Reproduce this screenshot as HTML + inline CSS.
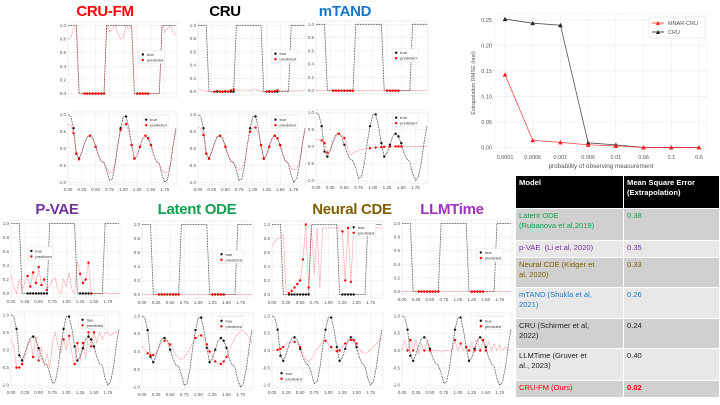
<!DOCTYPE html>
<html><head><meta charset="utf-8">
<style>
body{margin:0;width:720px;height:405px;overflow:hidden;background:#fff;font-family:"Liberation Sans",sans-serif;}
.t{position:absolute;font-size:15px;font-weight:bold;white-space:nowrap;transform:translateX(-50%);letter-spacing:-0.3px;}
table{position:absolute;left:515px;top:175px;width:205px;border-collapse:collapse;font-size:7.6px;table-layout:fixed;}
td{padding:2px 3px;vertical-align:top;line-height:10px;border:1px solid #fff;overflow:hidden;}
</style></head><body>
<svg id="s" width="720" height="405" style="position:absolute;left:0;top:0"></svg>
<div class="t" style="left:105px;top:3px;color:#f00">CRU-FM</div>
<div class="t" style="left:225px;top:3px;color:#000">CRU</div>
<div class="t" style="left:345px;top:3px;color:#1a78c8">mTAND</div>
<div class="t" style="left:57px;top:201px;color:#7030a0">P-VAE</div>
<div class="t" style="left:197px;top:201px;color:#10a050">Latent ODE</div>
<div class="t" style="left:352px;top:201px;color:#7f6000">Neural CDE</div>
<div class="t" style="left:452px;top:201px;color:#a030c0">LLMTime</div>
<table>
<colgroup><col style="width:108px"><col></colgroup>
<tr style="background:#000;color:#fff;font-weight:bold;height:33px"><td>Model</td><td>Mean Square Error (Extrapolation)</td></tr>
<tr style="background:#d0d0d0;color:#10a050;height:32px"><td>Latent ODE<br>(Rubanova et al,2019)</td><td>0.38</td></tr>
<tr style="background:#e8e8e8;color:#7030a0;height:17px"><td>p-VAE &nbsp;(Li et al, 2020)</td><td>0.35</td></tr>
<tr style="background:#d0d0d0;color:#7f6000;height:30px"><td>Neural CDE (Kidger et<br>al, 2020)</td><td>0.33</td></tr>
<tr style="background:#e8e8e8;color:#1a78c8;height:31px"><td>mTAND (Shukla et al,<br>2021)</td><td>0.26</td></tr>
<tr style="background:#d0d0d0;color:#222;height:30px"><td>CRU (Schirmer et al,<br>2022)</td><td>0.24</td></tr>
<tr style="background:#e8e8e8;color:#222;height:32px"><td>LLMTime (Gruver et<br>al., 2023)</td><td>0.40</td></tr>
<tr style="background:#d0d0d0;color:#f00;height:17px"><td>CRU-FM (Ours)</td><td style="font-weight:bold">0.02</td></tr>
</table>
<script>
// ---- RMSE chart data ----
const cats=['0.0001','0.0006','0.001','0.006','0.01','0.06','0.1','0.6'];
const mnarVals=[0.143,0.014,0.010,0.005,0.003,0,0,0];
const cruVals=[0.252,0.244,0.240,0.009,0.005,0,0,0];
const yTicks=[0,0.05,0.10,0.15,0.20,0.25];
const yTickLabels=['0.00','0.05','0.10','0.15','0.20','0.25'];
// ---- panel data (t = 0..1.95 step 0.05) ----
const sqTrue=[1,1,1,1,0,0,0,0,0,0,0,0,0,0,1,1,1,1,1,1,1,1,1,1,0,0,0,0,0,0,0,0,0,0,1,1,1,1,1,1];
const sinTrue=[1.0,0.95,0.6,-0.15,-0.3,-0.1,0.15,0.35,0.38,0.3,0.05,-0.2,-0.38,-0.42,-0.65,-0.95,-0.9,-0.5,0.1,0.6,0.95,0.95,0.6,0.1,-0.3,-0.2,0.05,0.3,0.38,0.3,0.1,-0.2,-0.38,-0.45,-0.8,-1.0,-0.9,-0.5,0.1,0.6];
const sqObs=[6,7,8,9,10,11,12,13,25,26,27,28,29];
const sinObs=[2,3,4,8,10,19,21,23,24,26,28,29,30];
const sqCruFm=[0.8,0.82,0.95,1,0,0,0,0,0,0,0,0,0,0,1,0.9,0.95,1,0.88,0.8,0.82,1,0.95,1,0,0,0,0,0,0,0,0,0,0,1,0.9,0.95,1,0.9,0.85];
const sinCruFm=[0.72,0.7,0.45,-0.15,-0.32,-0.1,0.15,0.35,0.38,0.3,0.05,-0.2,-0.38,-0.42,-0.6,-0.72,-0.7,-0.45,0.1,0.55,0.72,0.72,0.5,0.1,-0.3,-0.2,0.05,0.3,0.38,0.3,0.1,-0.2,-0.38,-0.45,-0.65,-0.72,-0.7,-0.45,0.1,0.5];
const sqCru=[0.03,0.03,0.02,0.01,0,0,0,0.01,0,0,0.01,0,0.02,0.03,0.03,0.02,0.03,0.02,0.03,0.02,0.03,0.03,0.02,0.01,0,0,0.01,0,0.01,0.02,0.02,0.01,0.02,0.02,0.01,0.01,0.02,0.01,0.02,0.03];
const sinCru=[0.62,0.6,0.4,-0.15,-0.3,-0.1,0.15,0.35,0.38,0.3,0.05,-0.2,-0.38,-0.42,-0.55,-0.62,-0.6,-0.4,0.1,0.5,0.62,0.62,0.45,0.1,-0.3,-0.2,0.05,0.3,0.38,0.3,0.1,-0.2,-0.38,-0.45,-0.58,-0.62,-0.6,-0.4,0.1,0.5];
const sqZero=[0,0,0,0,0,0,0,0,0,0,0,0,0,0,0,0,0,0,0,0,0,0,0,0,0,0,0,0,0,0,0,0,0,0,0,0,0,0,0,0];
const sinMtand=[0.22,0.2,0.18,0.1,-0.18,-0.15,0.1,0.3,0.38,0.35,0.25,0.0,-0.25,-0.2,-0.15,-0.12,-0.1,-0.08,-0.06,-0.05,-0.04,-0.03,-0.02,-0.02,-0.01,-0.01,0,0,0,0,0,0,0,0,0,0,0,0,0,0];
const sqPvae=[0.25,0.1,0,0.2,0.05,0.15,0.25,0.1,0.3,0.15,0.38,0.12,0.2,0.05,0.1,0.2,0.22,0.05,0,0.2,0.1,0.3,0.05,0,0.45,0.28,0.15,0.2,0.44,0,0,0,0,0,0.02,0,0,0,0,0];
const sinPvae=[0.3,0.1,-0.5,-0.5,-0.4,-0.2,0.1,0.3,-0.2,0.4,-0.3,0.1,-0.45,-0.1,-0.5,0.2,0.5,0.1,-0.1,0.3,0,0.4,-0.1,-0.4,0.2,-0.3,0.2,-0.25,0.5,0.1,0.5,0.2,0.5,0.3,0.5,0.5,0.4,0.5,0.5,0.45];
const sinLode=[0.15,0.05,-0.05,-0.1,-0.1,-0.02,0.1,0.22,0.3,0.3,0.2,0.05,-0.1,-0.2,-0.22,-0.18,-0.05,0.1,0.25,0.38,0.45,0.45,0.38,0.2,0.0,-0.15,-0.28,-0.35,-0.35,-0.28,-0.15,0.05,0.22,0.38,0.5,0.58,0.58,0.5,0.38,0.25];
const sqNcde=[0.68,0.75,0.8,0.82,0.85,0.05,0.02,0.05,0.1,0.15,0.2,0.5,1.0,0.1,0.95,0.3,0.95,0.1,0.95,0.95,0.95,0.95,0.95,0.95,0.95,0.9,0.2,0.95,0.18,0.95,0.95,0.95,0.95,0.95,0.95,0.95,0.95,0.95,0.95,0.95];
const sinNcde=[0,0,0.02,0.05,0.1,0.18,0.22,0.25,0.25,0.22,0.1,-0.1,-0.25,-0.32,-0.25,-0.1,0.05,0.15,0.25,0.28,0.2,0.1,0,-0.02,0.0,0.1,0.2,0.25,0.3,0.3,0.2,0.05,-0.05,-0.08,-0.05,0.02,0.1,0.2,0.3,0.35];
const sinLlm=[0,0.3,0,0.3,0,0.3,-0.1,0.2,0,0.25,0,0,0,0,-0.05,0,0,0,0,0.3,0,0.2,0,0.1,0,0.25,0,0.3,0,0.3,0,0.25,0,0.2,0,0.15,0,0.1,0,0.05];
const xTickVals=[0,0.25,0.5,0.75,1.0,1.25,1.5,1.75];
const xTickLabels=['0.00','0.25','0.50','0.75','1.00','1.25','1.50','1.75'];

const NS='http://www.w3.org/2000/svg';
const svg=document.getElementById('s');
function mk(tag,attrs,parent){const e=document.createElementNS(NS,tag);for(const k in attrs)e.setAttribute(k,attrs[k]);(parent||svg).appendChild(e);return e;}

function panel(name,x0,y0,w,h,kind,trueArr,predArr,obs,xlab,leg){
  const g=mk('g',{});
  
  
  const ymin=kind==='sq'?-0.05:-1.08, ymax=kind==='sq'?1.05:1.08;
  const ticks=kind==='sq'?[0,0.2,0.4,0.6,0.8,1.0]:[-1,-0.5,0,0.5,1];
  const X=t=>x0+t/1.97*w, Y=v=>y0+h-(v-ymin)/(ymax-ymin)*h;
  mk('rect',{x:x0,y:y0,width:w,height:h,fill:'#fff',stroke:'#e4e4e4','stroke-width':0.6},g);
  ticks.forEach(v=>{mk('line',{x1:x0,x2:x0+w,y1:Y(v),y2:Y(v),stroke:'#ececec','stroke-width':0.6},g);
    const tx=mk('text',{x:x0-2,y:Y(v)+1.5,'font-size':4.5,'text-anchor':'end',fill:'#555'},g);tx.textContent=v.toFixed(1);});
  xTickVals.forEach((v,i)=>{mk('line',{x1:X(v),x2:X(v),y1:y0,y2:y0+h,stroke:'#ececec','stroke-width':0.6},g);
    if(xlab){const tx=mk('text',{x:X(v),y:y0+h+6,'font-size':4.5,'text-anchor':'middle',fill:'#555'},g);tx.textContent=xTickLabels[i];}});
  const pts=a=>a.map((v,i)=>X(i*0.05).toFixed(1)+','+Y(Math.max(ymin,Math.min(ymax,v))).toFixed(1)).join(' ');
  const tl=mk('polyline',{points:pts(trueArr),fill:'none',stroke:'#222','stroke-width':0.8,'stroke-dasharray':'0.8 0.8'},g);
  
  
  const pl=mk('polyline',{points:pts(predArr),fill:'none',stroke:'#f33','stroke-width':0.7,opacity:0.6,'stroke-dasharray':'1 0.6'},g);
  
  
  obs.forEach(i=>{const t=i*0.05;
    const c1=mk('circle',{cx:X(t),cy:Y(trueArr[i]),r:1.2,fill:'#111'},g);
    
    
    const pv=Math.max(ymin,Math.min(ymax,predArr[i]));
    const c2=mk('circle',{cx:X(t),cy:Y(pv),r:1.2,fill:'#f00'},g);
    
    });
  const lx=x0+leg[0]*w, ly=y0+leg[1]*h;
  mk('rect',{x:lx,y:ly,width:26,height:13,fill:'#fff',stroke:'#ddd','stroke-width':0.4},g);
  mk('circle',{cx:lx+4,cy:ly+4,r:1.2,fill:'#111'},g);
  mk('circle',{cx:lx+4,cy:ly+9.5,r:1.2,fill:'#f00'},g);
  let t1=mk('text',{x:lx+8,y:ly+5.5,'font-size':4,fill:'#333'},g);t1.textContent='true';
  let t2=mk('text',{x:lx+8,y:ly+11,'font-size':4,fill:'#333'},g);t2.textContent='predicted';
}
// top row
panel('cru-fm-square',68,22,109,75,'sq',sqTrue,sqCruFm,sqObs,false,[0.65,0.38]);
panel('cru-fm-sine',68,112,109,73,'sin',sinTrue,sinCruFm,sinObs,true,[0.68,0.05]);
panel('cru-square',198,22,108,73,'sq',sqTrue,sqCru,sqObs,false,[0.68,0.38]);
panel('cru-sine',198,112,108,73,'sin',sinTrue,sinCru,sinObs,true,[0.68,0.05]);
panel('mtand-square',316,21,112,73,'sq',sqTrue,sqZero,sqObs,false,[0.68,0.38]);
panel('mtand-sine',316,110,112,73,'sin',sinTrue,sinMtand,sinObs,true,[0.68,0.05]);
// bottom row
panel('pvae-square',11,220,109,77,'sq',sqTrue,sqPvae,sqObs,true,[0.15,0.35]);
panel('pvae-sine',11,312,109,76,'sin',sinTrue,sinPvae,sinObs,true,[0.62,0.05]);
panel('latent-ode-square',142,221,111,77,'sq',sqTrue,sqZero,sqObs,true,[0.68,0.38]);
panel('latent-ode-sine',142,313,111,77,'sin',sinTrue,sinLode,sinObs,true,[0.68,0.05]);
panel('neural-cde-square',272,221,111,77,'sq',sqTrue,sqNcde,sqObs,true,[0.7,0.03]);
panel('neural-cde-sine',272,313,111,75,'sin',sinTrue,sinNcde,sinObs,true,[0.05,0.75]);
panel('llmtime-square',402,220,110,75,'sq',sqTrue,sqZero,sqObs,true,[0.68,0.38]);
panel('llmtime-sine',402,313,110,75,'sin',sinTrue,sinLlm,sinObs,true,[0.68,0.05]);

// ---- RMSE chart ----
(function(){
  const px0=495,px1=707,py0=14,py1=152;
  const ymin=-0.009,ymax=0.262;
  const X=i=>505+i*(699-505)/(cats.length-1);
  const Y=v=>py1-(v-ymin)/(ymax-ymin)*(py1-py0);
  const g=mk('g',{});
  
  
  mk('rect',{x:px0,y:py0,width:px1-px0,height:py1-py0,fill:'#fff',stroke:'#eee','stroke-width':0.6},g);
  yTicks.forEach((v,i)=>{mk('line',{x1:px0,x2:px1,y1:Y(v),y2:Y(v),stroke:'#ececec','stroke-width':0.7},g);
    const t=mk('text',{x:px0-3,y:Y(v)+2,'font-size':5.5,'text-anchor':'end',fill:'#555'},g);t.textContent=yTickLabels[i];});
  cats.forEach((c,i)=>{mk('line',{x1:X(i),x2:X(i),y1:py0,y2:py1,stroke:'#ececec','stroke-width':0.7},g);
    const t=mk('text',{x:X(i),y:py1+7,'font-size':5.5,'text-anchor':'middle',fill:'#555'},g);t.textContent=c;});
  const xl=mk('text',{x:601,y:168,'font-size':6.3,'text-anchor':'middle',fill:'#555'},g);xl.textContent='probability of observing measurement';
  
  
  const yl=mk('text',{x:0,y:0,'font-size':5.5,'text-anchor':'middle',fill:'#555',transform:'translate(475,83) rotate(-90)'},g);yl.textContent='Extrapolation RMSE (test)';
  
  
  function series(vals,col,name){
    const l=mk('polyline',{points:vals.map((v,i)=>X(i)+','+Y(v)).join(' '),fill:'none',stroke:col,'stroke-width':0.8,opacity:0.8},g);
    
    
    vals.forEach((v,i)=>{const m=mk('path',{d:`M${X(i)-2.3},${Y(v)+2} L${X(i)+2.3},${Y(v)+2} L${X(i)},${Y(v)-2.3}Z`,fill:col},g);
      
      });
  }
  series(cruVals,'#222','cru');
  series(mnarVals,'#f22','mnar-cru');
  const lg=mk('g',{},g);
  
  
  mk('rect',{x:649,y:17,width:56,height:21,fill:'#fff',stroke:'#ddd','stroke-width':0.5},lg);
  [['MNAR-CRU','#f22',23],['CRU','#222',32]].forEach(([n,c,y])=>{
    mk('line',{x1:652,x2:664,y1:y,y2:y,stroke:c,'stroke-width':0.8},lg);
    mk('path',{d:`M${656},${y+2} L${660},${y+2} L${658},${y-2}Z`,fill:c},lg);
    const t=mk('text',{x:668,y:y+2,'font-size':5.5,fill:'#555'},lg);t.textContent=n;});
})();
</script>
</body></html>
